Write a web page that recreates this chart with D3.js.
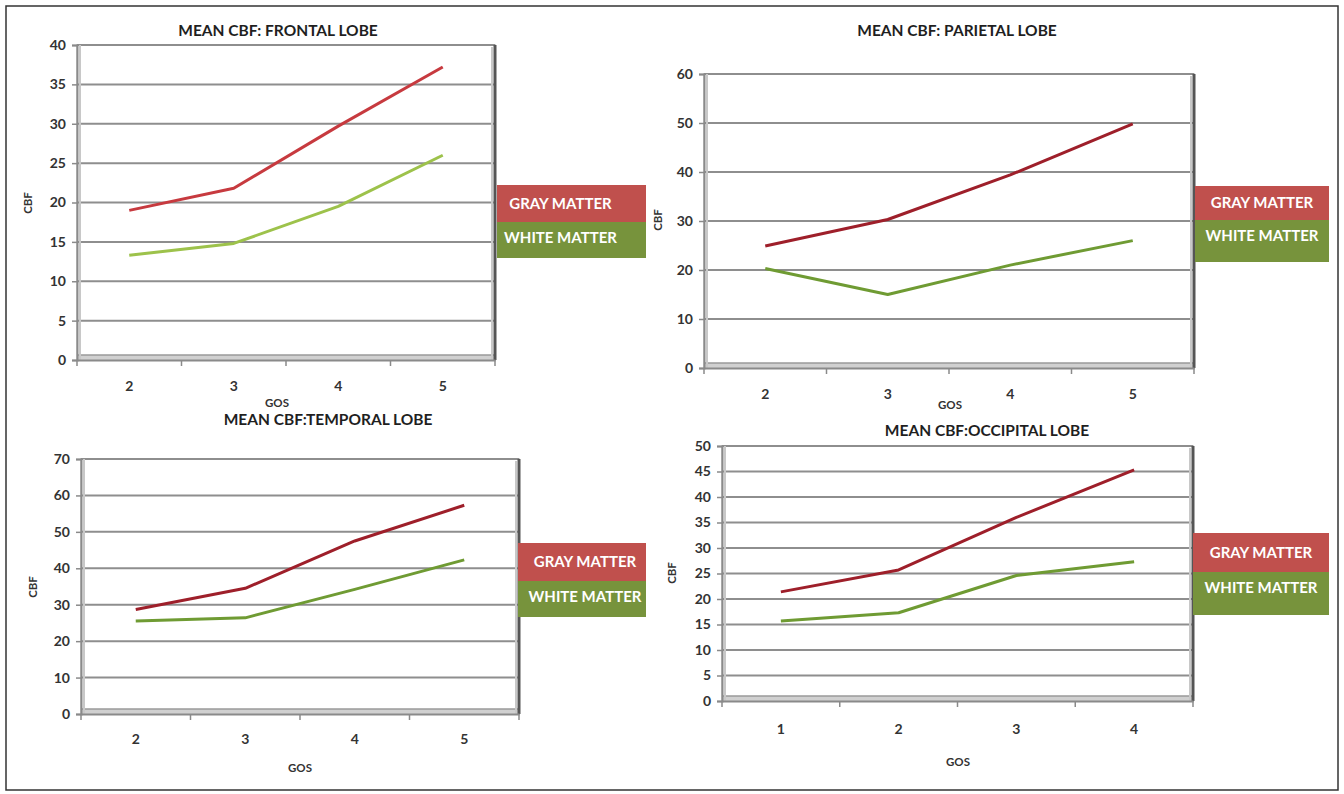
<!DOCTYPE html>
<html>
<head>
<meta charset="utf-8">
<script src="https://cdn.jsdelivr.net/npm/d3@7"></script>
<style>
  body { margin: 0; background: #fff; }
  svg text { font-family: Lato, "Open Sans", sans-serif; }
</style>
</head>
<body>
<div id="visualization"></div>
<script>
// categories (GOS) per panel
const gosFrontal = ["2", "3", "4", "5"];
const gosParietal = ["2", "3", "4", "5"];
const gosTemporal = ["2", "3", "4", "5"];
const gosOccipital = ["1", "2", "3", "4"];

// mean CBF values
const grayFrontal = [19.0, 21.8, 29.7, 37.2];
const whiteFrontal = [13.3, 14.8, 19.5, 26.0];
const grayParietal = [24.9, 30.3, 39.4, 49.8];
const whiteParietal = [20.3, 15.0, 21.0, 26.0];
const grayTemporal = [28.7, 34.5, 47.5, 57.3];
const whiteTemporal = [25.5, 26.4, 34.2, 42.3];
const grayOccipital = [21.4, 25.7, 36.0, 45.3];
const whiteOccipital = [15.7, 17.3, 24.6, 27.3];

// y tick labels
const yTicksFrontal = [0, 5, 10, 15, 20, 25, 30, 35, 40];
const yTicksParietal = [0, 10, 20, 30, 40, 50, 60];
const yTicksTemporal = [0, 10, 20, 30, 40, 50, 60, 70];
const yTicksOccipital = [0, 5, 10, 15, 20, 25, 30, 35, 40, 45, 50];

const seriesNames = ["GRAY MATTER", "WHITE MATTER"];

const W = 1344, H = 794;

const svg = d3.select("#visualization")
    .append("svg")
        .attr("width", W)
        .attr("height", H);

// outer frame
svg.append("rect")
    .attr("x", 6).attr("y", 6)
    .attr("width", 1332).attr("height", 784)
    .attr("fill", "#fff")
    .attr("stroke", "#333")
    .attr("stroke-width", 1.5);

const panels = [
    {
        title: "MEAN CBF: FRONTAL LOBE", cats: gosFrontal, gray: grayFrontal, white: whiteFrontal,
        ticks: yTicksFrontal,
        plot: { x: 77, y: 45, w: 418, h: 315 },
        titlePos: [278, 36], xLabY: 386, gos: [277, 403], cbf: [28, 203],
        legend: { x: 497, y: 185, w: 149, h1: 37, h2: 36, dx: -11 },
        colors: ["#c73a3f", "#9dc24b"]
    },
    {
        title: "MEAN CBF: PARIETAL LOBE", cats: gosParietal, gray: grayParietal, white: whiteParietal,
        ticks: yTicksParietal,
        plot: { x: 704, y: 74, w: 490, h: 294 },
        titlePos: [957, 36], xLabY: 394, gos: [950, 405], cbf: [658, 220],
        legend: { x: 1195, y: 186, w: 134, h1: 34, h2: 42, dx: 0 },
        colors: ["#9e1f2a", "#6f9b33"]
    },
    {
        title: "MEAN CBF:TEMPORAL LOBE", cats: gosTemporal, gray: grayTemporal, white: whiteTemporal,
        ticks: yTicksTemporal,
        plot: { x: 81, y: 459, w: 438, h: 255 },
        titlePos: [328, 425], xLabY: 739, gos: [300, 768], cbf: [33, 587],
        legend: { x: 518, y: 543, w: 128, h1: 38, h2: 36, dx: 3 },
        colors: ["#9e1f2a", "#6f9b33"]
    },
    {
        title: "MEAN CBF:OCCIPITAL LOBE", cats: gosOccipital, gray: grayOccipital, white: whiteOccipital,
        ticks: yTicksOccipital,
        plot: { x: 722, y: 446, w: 471, h: 255 },
        titlePos: [987, 436], xLabY: 729, gos: [958, 762], cbf: [672, 573],
        legend: { x: 1193, y: 533, w: 136, h1: 39, h2: 43, dx: 0 },
        colors: ["#9e1f2a", "#6f9b33"]
    }
];

const legendFill = ["#c0504d", "#77933c"];

panels.forEach(p => {
    const { x, y, w, h } = p.plot;
    const g = svg.append("g").attr("transform", `translate(${x}, ${y})`);

    const xs = d3.scaleBand().domain(p.cats).range([0, w]);
    const ys = d3.scaleLinear().domain([0, d3.max(p.ticks)]).range([h, 0]);

    //plot area
    g.append("rect")
        .attr("x", 0).attr("y", 0).attr("width", w).attr("height", h)
        .attr("fill", "#fff")
        .attr("stroke", "#b4b4b4")
        .attr("stroke-width", 1.5);

    //gridlines
    g.append("g")
        .selectAll("line")
        .data(p.ticks.filter(t => t > 0))
        .join("line")
            .attr("x1", 0).attr("x2", w)
            .attr("y1", d => ys(d)).attr("y2", d => ys(d))
            .attr("stroke", "#8e8e8e")
            .attr("stroke-width", 2);

    //floor band + right wall shadow
    g.append("rect")
        .attr("x", 0).attr("y", h - 5).attr("width", w).attr("height", 5)
        .attr("fill", "#d0d0d0");
    g.append("line")
        .attr("x1", 0).attr("x2", w).attr("y1", h - 5).attr("y2", h - 5)
        .attr("stroke", "#9a9a9a").attr("stroke-width", 1.5);
    g.append("line")
        .attr("x1", w).attr("x2", w).attr("y1", 0).attr("y2", h)
        .attr("stroke", "#555").attr("stroke-width", 3);
    g.append("line")
        .attr("x1", w - 3).attr("x2", w - 3).attr("y1", 2).attr("y2", h)
        .attr("stroke", "#c8c8c8").attr("stroke-width", 2);
    g.append("line")
        .attr("x1", 3).attr("x2", 3).attr("y1", 0).attr("y2", h)
        .attr("stroke", "#c8c8c8").attr("stroke-width", 2);

    //y axis
    const yAxis = g.append("g")
        .call(d3.axisLeft(ys).tickValues(p.ticks).tickSize(5).tickPadding(6));
    yAxis.select(".domain").attr("stroke", "#8a8a8a").attr("stroke-width", 2);
    yAxis.selectAll(".tick line").attr("stroke", "#8a8a8a").attr("stroke-width", 1.5);
    yAxis.selectAll("text")
        .attr("font-size", 14).attr("font-weight", "bold").attr("fill", "#333");

    //x axis: band boundaries carry the ticks
    const xAxis = g.append("g")
        .attr("transform", `translate(0, ${h})`)
        .call(d3.axisBottom(xs).tickSize(0).tickPadding(0));
    xAxis.select(".domain").attr("stroke", "#8a8a8a").attr("stroke-width", 2);
    xAxis.selectAll("text")
        .attr("y", p.xLabY - (y + h))
        .attr("dy", "0.35em")
        .attr("font-size", 14).attr("font-weight", "bold").attr("fill", "#333");
    xAxis.append("g")
        .selectAll("line")
        .data(p.cats.map(c => xs(c)).concat([w]))
        .join("line")
            .attr("x1", d => d).attr("x2", d => d)
            .attr("y1", 0).attr("y2", 6)
            .attr("stroke", "#8a8a8a").attr("stroke-width", 1.5);

    //series lines
    const line = d3.line()
        .x((d, i) => xs(p.cats[i]) + xs.bandwidth() / 2)
        .y(d => ys(d));
    [p.gray, p.white].forEach((vals, i) => {
        g.append("path")
            .datum(vals)
            .attr("d", line)
            .attr("fill", "none")
            .attr("stroke", p.colors[i])
            .attr("stroke-width", 3)
            .attr("stroke-linejoin", "round");
    });

    //title
    svg.append("text")
        .attr("x", p.titlePos[0]).attr("y", p.titlePos[1])
        .attr("text-anchor", "middle")
        .attr("font-size", 15.5).attr("font-weight", "bold").attr("fill", "#1f1f1f")
        .text(p.title);

    //axis titles
    svg.append("text")
        .attr("x", p.gos[0]).attr("y", p.gos[1])
        .attr("text-anchor", "middle").attr("dy", "0.35em")
        .attr("font-size", 11.5).attr("font-weight", "bold").attr("fill", "#333")
        .text("GOS");
    svg.append("text")
        .attr("transform", `translate(${p.cbf[0]}, ${p.cbf[1]}) rotate(-90)`)
        .attr("text-anchor", "middle").attr("dy", "0.35em")
        .attr("font-size", 11.5).attr("font-weight", "bold").attr("fill", "#333")
        .text("CBF");

    //legend
    const L = p.legend;
    const boxes = [{ y: L.y, h: L.h1 }, { y: L.y + L.h1, h: L.h2 }];
    boxes.forEach((b, i) => {
        svg.append("rect")
            .attr("x", L.x).attr("y", b.y).attr("width", L.w).attr("height", b.h)
            .attr("fill", legendFill[i]);
        svg.append("text")
            .attr("x", L.x + L.w / 2 + L.dx)
            .attr("y", i === 0 ? b.y + b.h / 2 : b.y + 16)
            .attr("dy", "0.35em")
            .attr("text-anchor", "middle")
            .attr("font-size", 15).attr("font-weight", "bold").attr("fill", "#fff")
            .text(seriesNames[i]);
    });
});
</script>
</body>
</html>
